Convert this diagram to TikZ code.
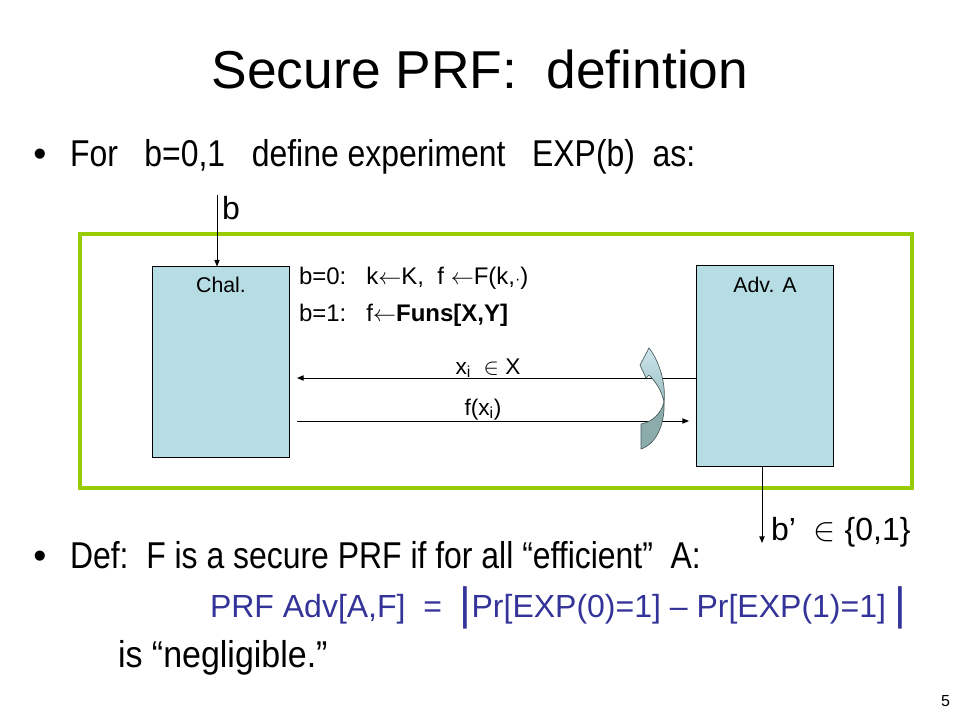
\documentclass[tikz,border=0pt]{standalone}
\usepackage{fontspec}
\usepackage{graphicx}
\setmainfont{Liberation Sans}
\usetikzlibrary{arrows.meta}
\definecolor{boxblue}{RGB}{183,221,228}
\definecolor{expgreen}{RGB}{153,204,0}
\definecolor{eqblue}{RGB}{51,51,153}
\definecolor{ribdark}{RGB}{140,172,172}
\definecolor{ribedge}{RGB}{70,90,90}
\tikzset{
  fs/.code={\fontsize{#1}{#1}\selectfont},
  txt/.style={inner sep=0pt, outer sep=0pt},
  party/.style={draw=black, line width=0.75pt, fill=boxblue, inner sep=0pt},
  arr/.style={line width=0.75pt, -{Triangle[length=5pt,width=4pt]}},
}
\begin{document}
\begin{tikzpicture}[x=0.75pt,y=-0.75pt]
\useasboundingbox (0,0) rectangle (960,720);
% title
\node[txt, fs=40, anchor=base] (title) at (480,89) {Secure PRF:\ \ defintion};
% bullet 1
\node[txt, fs=28, anchor=base] (bul1) at (40,167) {\textbullet};
\node[txt, fs=28, anchor=base west] (line1) at (70,167) {\scalebox{0.855}[1]{For\ \ \ b=0,1\ \ \ define experiment\ \ \ EXP(b)\ \ as:}};
% experiment frame
\node[draw=expgreen, line width=3pt, minimum width=832*0.75pt, minimum height=254*0.75pt, inner sep=0pt] (exp) at (496,361) {};
% parties
\node[party, minimum width=137*0.75pt, minimum height=190*0.75pt] (chal) at (220.5,362) {};
\node[party, minimum width=137*0.75pt, minimum height=200*0.75pt] (adv) at (764.5,366) {};
\node[txt, fs=16, anchor=base] (challab) at (221,292) {Chal.};
\node[txt, fs=16, anchor=base] (advlab) at (765,292) {Adv. A};
% b input
\coordinate (btop) at (217,195);
\draw[arr] (btop) -- (btop |- chal.north);
\node[txt, fs=24, anchor=base west] (blab) at (222,220) {b};
% sampling text
\node[txt, fs=18, anchor=base west] (b0) at (299,285) {b=0:\ \ \ k$\leftarrow$K,\ \ f $\leftarrow$F(k,{\large\textperiodcentered})};
\node[txt, fs=18, anchor=base west] (b1) at (299,321) {b=1:\ \ \ f$\leftarrow$\textbf{Funs[X,Y]}};
% queries
\coordinate (qend) at (297,378);
\draw[arr] (adv.west |- qend) -- (qend);
\node[txt, fs=17, anchor=base] (qlab) at (488,374) {x\textsubscript{i}\ \ $\in$ X};
\coordinate (rstart) at (297,421);
\coordinate (rend) at (689,421);
\draw[arr] (rstart) -- (rend);
\node[txt, fs=17, anchor=base] (rlab) at (483,415) {f(x\textsubscript{i})};
% curved ribbon arrow
\draw[ribedge, line width=0.5pt, fill=ribdark]
  (664,402) .. controls (665,425) and (656,444) .. (641,449)
  -- (641,424) .. controls (652,422) and (661,414) .. (664,402) -- cycle;
\draw[ribedge, line width=0.5pt, top color=boxblue!70!white, bottom color=boxblue!85!black]
  (664,402) .. controls (666,385) and (660,362) .. (649,348)
  -- (640,365) -- (646,378) -- (649,375)
  .. controls (657,383) and (662,392) .. (664,402) -- cycle;
% output
\coordinate (bout) at (762,543);
\draw[arr] (adv.south -| bout) -- (bout);
\node[txt, fs=24, anchor=base west] (boutlab) at (771,540) {b'\ \ $\in$ \{0,1\}};
% bullet 2
\node[txt, fs=28, anchor=base] (bul2) at (40,568) {\textbullet};
\node[txt, fs=28, anchor=base west] (line2) at (70,568) {\scalebox{0.855}[1]{Def:\ \ F is a secure PRF if for all “efficient”\ \ A:}};
% advantage
\node[txt, fs=24, anchor=base west, text=eqblue] (adv eq) at (210,617) {PRF Adv[A,F]\ \ =\ \ {\fontsize{34}{34}\selectfont\raisebox{-2pt}{|}}Pr[EXP(0)=1] – Pr[EXP(1)=1]\ {\fontsize{34}{34}\selectfont\raisebox{-2pt}{|}}};
\node[txt, fs=28, anchor=base west] (negl) at (118,667) {\scalebox{0.91}[1]{is “negligible.”}};
% page number
\node[txt, fs=12, anchor=base east] (pnum) at (950,706) {5};
\end{tikzpicture}
\end{document}
